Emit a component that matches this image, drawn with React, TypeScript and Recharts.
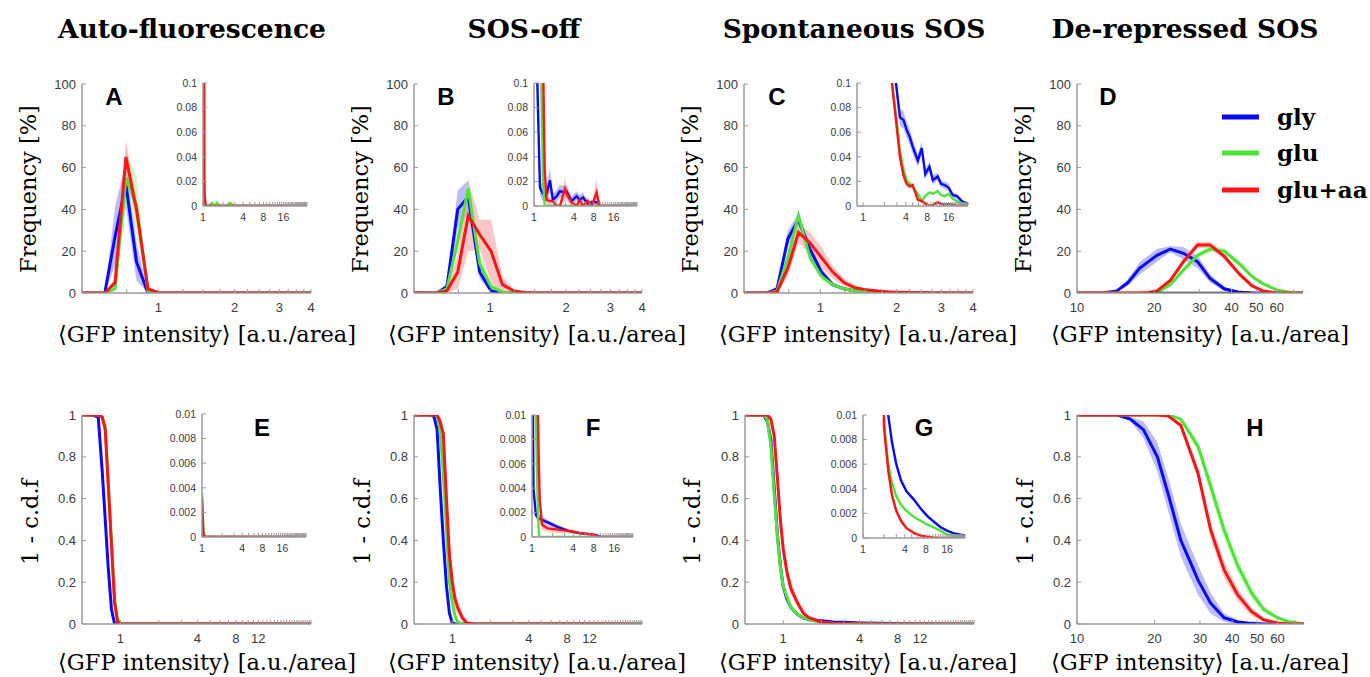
import React from "react";
import { ComposedChart, Line, Area, XAxis, YAxis } from "recharts";

const BLUE = "#0a0af5";
const GREEN = "#4fe33a";
const RED = "#fa1616";
const BLUE_BAND = "#8e8ef2";
const GREEN_BAND = "#aef3a0";
const RED_BAND = "#f5a0a0";
const AXIS = "#9a9a9a";
const TICK_TEXT = "#3a3a3a";
const SERIF = "'DejaVu Serif', serif";
const SANS = "'Liberation Sans', Arial, sans-serif";

const titles = ["Auto-fluorescence", "SOS-off", "Spontaneous SOS", "De-repressed SOS"];
const conditions = ["gly", "glu", "glu+aa"];

// ---- top row histograms (A-C), frequency in % ----
const xABC = [0.5, 0.555, 0.615, 0.675, 0.745, 0.82, 0.91, 1.01, 1.12, 1.24, 1.37, 1.52, 1.68, 1.86, 2.06, 2.28, 2.52, 2.8, 3.1, 3.43, 3.8, 4];

const glyA = [0, 0, 0, 27, 52, 15, 0, 0, 0, 0, 0, 0, 0, 0, 0, 0, 0, 0, 0, 0, 0, 0];
const glyA_sd = [0, 0, 0, 14, 11, 9, 1, 0, 0, 0, 0, 0, 0, 0, 0, 0, 0, 0, 0, 0, 0, 0];
const gluA = [0, 0, 0, 2, 55, 42, 1, 0, 0, 0, 0, 0, 0, 0, 0, 0, 0, 0, 0, 0, 0, 0];
const gluA_sd = [0, 0, 0, 1, 13, 14, 1, 0, 0, 0, 0, 0, 0, 0, 0, 0, 0, 0, 0, 0, 0, 0];
const aaA = [0, 0, 0, 5, 65, 40, 2, 0, 0, 0, 0, 0, 0, 0, 0, 0, 0, 0, 0, 0, 0, 0];
const aaA_sd = [0, 0, 0, 2, 8, 5, 1, 0, 0, 0, 0, 0, 0, 0, 0, 0, 0, 0, 0, 0, 0, 0];

const glyB = [0, 0, 0, 3, 40, 46, 10, 1, 0, 0, 0, 0, 0, 0, 0, 0, 0, 0, 0, 0, 0, 0];
const glyB_sd = [0, 0, 0, 2, 9, 8, 3, 1, 0, 0, 0, 0, 0, 0, 0, 0, 0, 0, 0, 0, 0, 0];
const gluB = [0, 0, 0, 2, 25, 50, 14, 3, 0.5, 0, 0, 0, 0, 0, 0, 0, 0, 0, 0, 0, 0, 0];
const gluB_sd = [0, 0, 0, 1, 5, 5, 5, 2, 0.5, 0, 0, 0, 0, 0, 0, 0, 0, 0, 0, 0, 0, 0];
const aaB = [0, 0, 0, 1, 10, 37, 28, 20, 4, 1, 0.3, 0, 0, 0, 0, 0, 0, 0, 0, 0, 0, 0];
const aaB_sd = [0, 0, 0, 1, 8, 17, 7, 15, 4, 1, 0.3, 0, 0, 0, 0, 0, 0, 0, 0, 0, 0, 0];

const glyC = [0, 0, 0, 2, 26, 35, 21, 10, 4, 2, 1, 0.6, 0.4, 0.3, 0.2, 0.1, 0.1, 0, 0, 0, 0, 0];
const glyC_sd = [0, 0, 0, 1, 4, 3, 3, 2, 1, 0.5, 0.3, 0.2, 0.1, 0, 0, 0, 0, 0, 0, 0, 0, 0];
const gluC = [0, 0, 0, 1, 17, 37, 17, 8, 4, 2, 1, 0.5, 0.3, 0.2, 0.1, 0, 0, 0, 0, 0, 0, 0];
const gluC_sd = [0, 0, 0, 1, 3, 3, 2, 1.5, 1, 0.5, 0.3, 0.2, 0, 0, 0, 0, 0, 0, 0, 0, 0, 0];
const aaC = [0, 0, 0, 0.5, 12, 29, 24, 17, 10, 5, 2.5, 1.5, 1, 0.5, 0.3, 0.2, 0.1, 0, 0, 0, 0, 0];
const aaC_sd = [0, 0, 0, 0.5, 4, 5, 5, 5, 3, 2, 1, 0.5, 0.3, 0.2, 0, 0, 0, 0, 0, 0, 0, 0];

// ---- D histogram ----
const xD = [10, 11.5, 12.6, 14.3, 15.8, 17.6, 19, 20.5, 23.1, 26, 29.5, 33, 37.5, 43, 48, 53, 60, 68, 76];
const glyD = [0, 0, 0, 1, 5, 12, 15, 18, 21, 19, 15, 7, 2, 0.3, 0, 0, 0, 0, 0];
const glyD_sd = [0, 0, 0, 0.5, 1.5, 3, 3, 3, 1.5, 3, 3, 2, 1, 0.3, 0, 0, 0, 0, 0];
const gluD = [0, 0, 0, 0, 0, 0, 0, 0.3, 4, 11, 18, 21, 20, 14, 8, 4.5, 1.5, 0.3, 0];
const gluD_sd = [0, 0, 0, 0, 0, 0, 0, 0.3, 1, 1.5, 1.5, 1.5, 1.5, 1.5, 1, 0.7, 0.4, 0.2, 0];
const aaD = [0, 0, 0, 0, 0, 0, 0.3, 1, 6, 15, 23, 23, 17.5, 9, 3.5, 1, 0, 0, 0];
const aaD_sd = [0, 0, 0, 0, 0, 0, 0.2, 0.5, 1, 1.5, 1.5, 1.5, 1.5, 1, 0.7, 0.3, 0, 0, 0];
const ctrlD = [null, null, null, null, null, null, 0, 0, 0, 0, 0, 0, 0, 0, 0, null, null, null, null];

// ---- bottom row 1 - c.d.f ----
const xE = [0.5, 0.6, 0.67, 0.72, 0.76, 0.8, 0.85, 0.9, 0.95, 1.0, 1.1, 1.3, 1.6, 2, 3, 4, 6, 8, 12, 16, 24, 31];
const glyE = [1, 1, 0.99, 0.73, 0.5, 0.28, 0.07, 0, 0, 0, 0, 0, 0, 0, 0, 0, 0, 0, 0, 0, 0, 0];
const glyE_sd = [0, 0, 0.01, 0.03, 0.03, 0.03, 0.02, 0, 0, 0, 0, 0, 0, 0, 0, 0, 0, 0, 0, 0, 0, 0];
const gluE = [1, 1, 1, 0.99, 0.95, 0.7, 0.4, 0.12, 0.02, 0, 0, 0, 0, 0, 0, 0, 0, 0, 0, 0, 0, 0];
const gluE_sd = [0, 0, 0, 0.01, 0.02, 0.03, 0.03, 0.02, 0.01, 0, 0, 0, 0, 0, 0, 0, 0, 0, 0, 0, 0, 0];
const aaE = [1, 1, 1, 0.99, 0.93, 0.68, 0.38, 0.1, 0.01, 0, 0, 0, 0, 0, 0, 0, 0, 0, 0, 0, 0, 0];
const aaE_sd = [0, 0, 0, 0.01, 0.02, 0.02, 0.02, 0.02, 0.01, 0, 0, 0, 0, 0, 0, 0, 0, 0, 0, 0, 0, 0];

const xF = [0.5, 0.6, 0.68, 0.72, 0.76, 0.8, 0.85, 0.9, 0.95, 1.0, 1.05, 1.1, 1.2, 1.3, 1.5, 2, 3, 4, 6, 8, 12, 16, 24, 31];
const glyF = [1, 1, 1, 0.99, 0.93, 0.67, 0.4, 0.18, 0.05, 0.005, 0, 0, 0, 0, 0, 0, 0, 0, 0, 0, 0, 0, 0, 0];
const glyF_sd = [0, 0, 0, 0, 0.01, 0.02, 0.02, 0.02, 0.01, 0.003, 0, 0, 0, 0, 0, 0, 0, 0, 0, 0, 0, 0, 0, 0];
const gluF = [1, 1, 1, 1, 1, 0.93, 0.72, 0.45, 0.2, 0.1, 0.04, 0.01, 0, 0, 0, 0, 0, 0, 0, 0, 0, 0, 0, 0];
const gluF_sd = [0, 0, 0, 0, 0, 0.02, 0.03, 0.03, 0.03, 0.02, 0.01, 0.005, 0, 0, 0, 0, 0, 0, 0, 0, 0, 0, 0, 0];
const aaF = [1, 1, 1, 1, 1, 0.97, 0.91, 0.6, 0.33, 0.2, 0.12, 0.08, 0.03, 0.005, 0, 0, 0, 0, 0, 0, 0, 0, 0, 0];
const aaF_sd = [0, 0, 0, 0, 0, 0.02, 0.04, 0.07, 0.07, 0.06, 0.05, 0.03, 0.02, 0.005, 0, 0, 0, 0, 0, 0, 0, 0, 0, 0];

const xG = [0.5, 0.6, 0.7, 0.75, 0.8, 0.85, 0.9, 0.95, 1.0, 1.07, 1.15, 1.3, 1.45, 1.6, 2, 2.5, 3, 4, 6, 8, 12, 16, 24, 32];
const glyG = [1, 1, 1, 0.97, 0.88, 0.65, 0.43, 0.28, 0.18, 0.12, 0.08, 0.045, 0.028, 0.02, 0.015, 0.01, 0.008, 0.005, 0.003, 0.002, 0.001, 0.0005, 0.0002, 0];
const glyG_sd = [0, 0, 0, 0.01, 0.02, 0.02, 0.02, 0.02, 0.01, 0.01, 0.005, 0.003, 0.002, 0.001, 0, 0, 0, 0, 0, 0, 0, 0, 0, 0];
const gluG = [1, 1, 1, 0.98, 0.85, 0.62, 0.42, 0.27, 0.18, 0.13, 0.08, 0.045, 0.03, 0.02, 0.008, 0.004, 0.002, 0.001, 0.0006, 0.0004, 0.0002, 0.0001, 0, 0];
const gluG_sd = [0, 0, 0, 0.01, 0.02, 0.02, 0.02, 0.02, 0.01, 0.01, 0.005, 0.003, 0.002, 0.001, 0, 0, 0, 0, 0, 0, 0, 0, 0, 0];
const aaG = [1, 1, 1, 1, 0.98, 0.9, 0.7, 0.5, 0.36, 0.25, 0.17, 0.1, 0.05, 0.03, 0.01, 0.004, 0.002, 0.001, 0.0004, 0.0001, 0, 0, 0, 0];
const aaG_sd = [0, 0, 0, 0, 0.01, 0.03, 0.05, 0.05, 0.05, 0.04, 0.03, 0.02, 0.01, 0.005, 0, 0, 0, 0, 0, 0, 0, 0, 0, 0];

const xH = [10, 12, 14.3, 16.1, 18.1, 20.5, 22.6, 25.3, 29.5, 33, 37.2, 42, 47.5, 53, 60, 66, 76];
const glyH = [1, 1, 1, 0.98, 0.93, 0.8, 0.62, 0.4, 0.21, 0.1, 0.03, 0.01, 0.003, 0, 0, 0, 0];
const glyH_sd = [0, 0, 0, 0.01, 0.04, 0.07, 0.08, 0.08, 0.07, 0.05, 0.02, 0.01, 0.003, 0, 0, 0, 0];
const gluH = [1, 1, 1, 1, 1, 1, 1, 0.98, 0.85, 0.66, 0.45, 0.28, 0.15, 0.07, 0.03, 0.012, 0];
const gluH_sd = [0, 0, 0, 0, 0, 0, 0, 0.01, 0.03, 0.04, 0.04, 0.03, 0.03, 0.02, 0.01, 0.005, 0];
const aaH = [1, 1, 1, 1, 1, 1, 0.995, 0.95, 0.72, 0.45, 0.26, 0.14, 0.06, 0.02, 0.005, 0, 0];
const aaH_sd = [0, 0, 0, 0, 0, 0, 0, 0.01, 0.03, 0.04, 0.04, 0.03, 0.02, 0.01, 0, 0, 0];

// ---- insets (tails) ----
const xIA = [1, 1.05, 1.1, 1.2, 1.37, 1.5, 1.62, 1.8, 2.2, 2.55, 2.9, 4, 6, 8, 12, 16, 24, 36];
const glyIA = [0.052, 0.003, 0, 0, 0, 0, 0, 0, 0, 0, 0, 0, 0, 0, 0, 0, 0, 0];
const glyIA_sd = [0.004, 0.001, 0, 0, 0, 0, 0, 0, 0, 0, 0, 0, 0, 0, 0, 0, 0, 0];
const gluIA = [0.01, 0.002, 0, 0, 0.0025, 0, 0.0025, 0, 0, 0.0025, 0, 0, 0, 0, 0, 0, 0, 0];
const gluIA_sd = [0.002, 0.001, 0, 0, 0.001, 0, 0.001, 0, 0, 0.001, 0, 0, 0, 0, 0, 0, 0, 0];
const aaIA = [0.5, 0.01, 0, 0, 0, 0, 0, 0, 0, 0, 0, 0, 0, 0, 0, 0, 0, 0];
const aaIA_sd = [0.01, 0.002, 0, 0, 0, 0, 0, 0, 0, 0, 0, 0, 0, 0, 0, 0, 0, 0];

const xIB = [1, 1.1, 1.23, 1.3, 1.37, 1.45, 1.55, 1.74, 1.93, 2.2, 2.46, 2.93, 3.1, 3.7, 4.4, 4.9, 5.5, 6.5, 7.5, 8.8, 9.85, 12, 16, 24, 36];
const glyIB = [1, 0.12, 0.015, 0.012, 0.01, 0.008, 0.01, 0.021, 0.005, 0.008, 0.012, 0.011, 0.012, 0.004, 0.008, 0.005, 0.007, 0.002, 0.003, 0.003, 0, 0, 0, 0, 0];
const glyIB_sd = [0.02, 0.01, 0.006, 0.006, 0.006, 0.006, 0.006, 0.01, 0.005, 0.005, 0.005, 0.005, 0.005, 0.004, 0.004, 0.004, 0.004, 0.002, 0.002, 0.002, 0, 0, 0, 0, 0];
const gluIB = [2, 1, 0.3, 0.09, 0.02, 0, 0, 0, 0, 0, 0, 0, 0, 0, 0, 0, 0, 0, 0, 0, 0, 0, 0, 0, 0];
const gluIB_sd = [0.05, 0.03, 0.02, 0.01, 0.005, 0, 0, 0, 0, 0, 0, 0, 0, 0, 0, 0, 0, 0, 0, 0, 0, 0, 0, 0, 0];
const aaIB = [5, 3, 1, 0.5, 0.12, 0.03, 0.005, 0.004, 0.004, 0, 0, 0.014, 0.01, 0.003, 0, 0.005, 0, 0.004, 0, 0.011, 0, 0, 0, 0, 0];
const aaIB_sd = [0.1, 0.1, 0.05, 0.03, 0.02, 0.01, 0.004, 0.003, 0.003, 0, 0, 0.01, 0.006, 0.003, 0, 0.004, 0, 0.004, 0, 0.011, 0, 0, 0, 0, 0];

const xIC = [0.82, 1, 1.5, 2, 2.55, 2.9, 3.3, 3.7, 4.1, 4.55, 5, 5.9, 6.7, 7.5, 8.6, 9.6, 11.2, 12.5, 14, 16, 18.2, 21, 25, 30];
const glyIC = [1, 1, 0.5, 0.3, 0.15, 0.1, 0.072, 0.07, 0.062, 0.056, 0.048, 0.037, 0.047, 0.026, 0.032, 0.021, 0.024, 0.018, 0.017, 0.015, 0.009, 0.008, 0.0035, 0.002];
const glyIC_sd = [0, 0, 0, 0, 0.008, 0.008, 0.007, 0.007, 0.007, 0.006, 0.006, 0.005, 0.005, 0.004, 0.004, 0.004, 0.003, 0.003, 0.003, 0.003, 0.002, 0.002, 0.001, 0.001];
const gluIC = [1, 1, 0.6, 0.3, 0.1, 0.075, 0.045, 0.03, 0.021, 0.018, 0.015, 0.01, 0.004, 0.008, 0.011, 0.01, 0.012, 0.009, 0.008, 0.01, 0.006, 0.004, 0.002, 0.001];
const gluIC_sd = [0, 0, 0, 0, 0.006, 0.005, 0.004, 0.003, 0.002, 0.002, 0.002, 0.002, 0.001, 0.001, 0.001, 0.001, 0.001, 0.001, 0.001, 0.001, 0.001, 0.001, 0.001, 0];
const aaIC = [1, 1, 0.6, 0.3, 0.1, 0.07, 0.04, 0.025, 0.018, 0.016, 0.017, 0.005, 0.004, 0.002, 0, 0.001, 0.003, 0.002, 0.001, 0.0015, 0.001, 0, 0.0005, 0];
const aaIC_sd = [0, 0, 0, 0, 0.01, 0.008, 0.006, 0.004, 0.003, 0.002, 0.002, 0.001, 0.001, 0.001, 0, 0, 0, 0, 0, 0, 0, 0, 0, 0];

const xIE = [1, 1.05, 1.1, 1.2, 1.5, 2, 3, 4, 6, 8, 12, 16, 24, 36];
const glyIE = [0.0005, 0.0001, 0, 0, 0, 0, 0, 0, 0, 0, 0, 0, 0, 0];
const glyIE_sd = [0.0001, 0, 0, 0, 0, 0, 0, 0, 0, 0, 0, 0, 0, 0];
const gluIE = [0.0036, 0.0003, 0.0001, 0, 0, 0, 0, 0, 0, 0, 0, 0, 0, 0];
const gluIE_sd = [0.0002, 0.0001, 0, 0, 0, 0, 0, 0, 0, 0, 0, 0, 0, 0];
const aaIE = [0.0031, 0.0003, 0, 0, 0, 0, 0, 0, 0, 0, 0, 0, 0, 0];
const aaIE_sd = [0.0001, 0, 0, 0, 0, 0, 0, 0, 0, 0, 0, 0, 0, 0];

const xIF = [1, 1.05, 1.14, 1.22, 1.27, 1.3, 1.4, 1.7, 2.4, 3.4, 5.2, 8.1, 9.3, 10, 12, 16, 22, 30];
const glyIF = [0.02, 0.004, 0.0018, 0.0016, 0.0015, 0.0015, 0.0014, 0.0012, 0.0008, 0.0005, 0.0003, 0.0002, 0.0001, 0, 0, 0, 0, 0];
const glyIF_sd = [0.001, 0.0005, 0.0003, 0.0003, 0.0003, 0.0003, 0.0003, 0.0002, 0.0002, 0.0001, 0.0001, 0.0001, 0, 0, 0, 0, 0, 0];
const gluIF = [0.05, 0.03, 0.01, 0.002, 0, 0, 0, 0, 0, 0, 0, 0, 0, 0, 0, 0, 0, 0];
const gluIF_sd = [0.002, 0.001, 0.001, 0.0005, 0, 0, 0, 0, 0, 0, 0, 0, 0, 0, 0, 0, 0, 0];
const aaIF = [0.1, 0.08, 0.04, 0.01, 0.005, 0.003, 0.001, 0.0007, 0.0006, 0.0005, 0.0003, 0.0002, 0, 0, 0, 0, 0, 0];
const aaIF_sd = [0, 0, 0, 0.001, 0.0008, 0.0006, 0.0004, 0.0003, 0.0003, 0.0002, 0.0001, 0.0001, 0, 0, 0, 0, 0, 0];

const xIG = [1, 1.5, 2, 2.3, 2.6, 3, 3.5, 4.2, 5.4, 6.7, 8.3, 10, 12.8, 16, 19.6, 24, 29];
const glyIG = [1, 0.1, 0.02, 0.01, 0.0078, 0.006, 0.0047, 0.0038, 0.0031, 0.0024, 0.0018, 0.0014, 0.0009, 0.0006, 0.0004, 0.0003, 0.0002];
const glyIG_sd = [0, 0, 0.0002, 0.0002, 0.0002, 0.0002, 0.0002, 0.0001, 0.0001, 0.0001, 0.0001, 0.0001, 0.0001, 0, 0, 0, 0];
const gluIG = [1, 0.1, 0.0095, 0.006, 0.0045, 0.0034, 0.0027, 0.0022, 0.0017, 0.0014, 0.0011, 0.0009, 0.0006, 0.0003, 0.0002, 0.0001, 0.0001];
const gluIG_sd = [0, 0, 0.0003, 0.0002, 0.0002, 0.0002, 0.0001, 0.0001, 0.0001, 0.0001, 0.0001, 0.0001, 0, 0, 0, 0, 0];
const aaIG = [1, 0.1, 0.009, 0.0055, 0.0035, 0.0022, 0.0014, 0.0008, 0.0004, 0.0002, 0.0001, 0.00005, 0, 0, 0, 0, 0];
const aaIG_sd = [0, 0, 0.0008, 0.0006, 0.0004, 0.0003, 0.0002, 0.0001, 0, 0, 0, 0, 0, 0, 0, 0, 0];

// ---- ticks ----
const ticksTopX = [0.5, 0.75, 1, 1.25, 1.5, 1.75, 2, 2.25, 2.5, 2.75, 3, 3.25, 3.5, 3.75, 4];
const labelsTopX = [1, 2, 3, 4];
const intTicks = [1, 2, 3, 4, 5, 6, 7, 8, 9, 10, 11, 12, 13, 14, 15, 16, 17, 18, 19, 20, 21, 22, 23, 24, 25, 26, 27, 28, 29, 30, 31, 32, 33, 34, 35, 36];
const labelsBotX = [1, 4, 8, 12];
const labelsInsetX = [1, 4, 8, 16];
const ticksDH = [10, 20, 30, 40, 50, 60, 70];
const labelsDH = [10, 20, 30, 40, 50, 60];
const yFreq = [0, 20, 40, 60, 80, 100];
const yCdf = [0, 0.2, 0.4, 0.6, 0.8, 1];
const yFreqInset = [0, 0.02, 0.04, 0.06, 0.08, 0.1];
const yCdfInset = [0, 0.002, 0.004, 0.006, 0.008, 0.01];

type S = { key: string; mean: (number | null)[]; sd?: number[]; color: string; band?: string; width?: number };

const three = (g: number[], gs: number[], u: number[], us: number[], a: number[], as: number[]): S[] => [
  { key: "gly", mean: g, sd: gs, color: BLUE, band: BLUE_BAND },
  { key: "glu", mean: u, sd: us, color: GREEN, band: GREEN_BAND },
  { key: "aa", mean: a, sd: as, color: RED, band: RED_BAND },
];

type PanelProps = {
  left: number;
  top: number;
  w: number;
  h: number;
  xs: number[];
  series: S[];
  xDomain: [number, number];
  yDomain: [number, number];
  xTicks: number[];
  xLabels: number[];
  yTicks: number[];
  inset?: boolean;
};

function Panel(p: PanelProps) {
  const YW = p.inset ? 36 : 44;
  const XH = p.inset ? 18 : 24;
  const M = 6;
  const fs = p.inset ? 10.5 : 13;
  const lw = p.inset ? 2.4 : 3;
  const rows = p.xs.map((x, i) => {
    const r: Record<string, any> = { x };
    p.series.forEach((s) => {
      const m = s.mean[i];
      r[s.key] = m;
      if (s.sd && m != null) r[s.key + "_b"] = [Math.max(0, m - s.sd[i]), m + s.sd[i]];
    });
    return r;
  });
  const xTicks = p.xTicks.filter((t) => t >= p.xDomain[0] && t <= p.xDomain[1]);

  const xTick = (t: any) => {
    const v = t.payload.value;
    return (
      <g>
        <line x1={t.x} x2={t.x} y1={t.y} y2={t.y - 4} stroke={AXIS} strokeWidth={1} />
        {p.xLabels.includes(v) && (
          <text x={t.x} y={t.y + (p.inset ? 14.5 : 18.5)} textAnchor="middle" fontSize={fs} fill={TICK_TEXT} fontFamily={SANS}>
            {v}
          </text>
        )}
      </g>
    );
  };
  const yTick = (t: any) => (
    <g>
      <line x1={t.x} x2={t.x + 4} y1={t.y} y2={t.y} stroke={AXIS} strokeWidth={1} />
      <text x={t.x - 6} y={t.y + fs * 0.36} textAnchor="end" fontSize={fs} fill={TICK_TEXT} fontFamily={SANS}>
        {t.payload.value}
      </text>
    </g>
  );

  return (
    <div style={{ position: "absolute", left: p.left - YW, top: p.top - M }}>
      <ComposedChart width={p.w + YW + M} height={p.h + M + XH} data={rows} margin={{ top: M, right: M, bottom: 0, left: 0 }}>
        <XAxis
          dataKey="x"
          type="number"
          scale="log"
          domain={p.xDomain}
          ticks={xTicks}
          interval={0}
          allowDataOverflow
          height={XH}
          tickSize={0}
          tickMargin={0}
          tickLine={false}
          axisLine={{ stroke: AXIS, strokeWidth: 1.5 }}
          tick={xTick}
        />
        <YAxis
          type="number"
          domain={p.yDomain}
          ticks={p.yTicks}
          interval={0}
          allowDataOverflow
          width={YW}
          tickSize={0}
          tickMargin={0}
          tickLine={false}
          axisLine={{ stroke: AXIS, strokeWidth: 1.5 }}
          tick={yTick}
        />
        {p.series
          .filter((s) => s.band)
          .map((s) => (
            <Area
              key={s.key + "_b"}
              type="linear"
              dataKey={s.key + "_b"}
              stroke="none"
              fill={s.band}
              fillOpacity={0.6}
              isAnimationActive={false}
              activeDot={false}
            />
          ))}
        {p.series.map((s) => (
          <Line
            key={s.key}
            type="linear"
            dataKey={s.key}
            stroke={s.color}
            strokeWidth={s.width ?? lw}
            dot={false}
            activeDot={false}
            isAnimationActive={false}
          />
        ))}
      </ComposedChart>
    </div>
  );
}

const colX = [82, 414, 744, 1077];
const labelCenters = [207, 537, 868, 1200];

export default function App() {
  const top = { top: 84, h: 209 };
  const bot = { top: 415, h: 209 };
  return (
    <div style={{ position: "absolute", left: 0, top: 0, width: 1370, height: 677, background: "#fff", overflow: "hidden" }}>
      {/* top row */}
      <Panel left={82} top={top.top} w={229} h={top.h} xs={xABC} series={three(glyA, glyA_sd, gluA, gluA_sd, aaA, aaA_sd)}
        xDomain={[0.5, 4]} yDomain={[0, 100]} xTicks={ticksTopX} xLabels={labelsTopX} yTicks={yFreq} />
      <Panel left={414} top={top.top} w={228} h={top.h} xs={xABC} series={three(glyB, glyB_sd, gluB, gluB_sd, aaB, aaB_sd)}
        xDomain={[0.5, 4]} yDomain={[0, 100]} xTicks={ticksTopX} xLabels={labelsTopX} yTicks={yFreq} />
      <Panel left={744} top={top.top} w={229} h={top.h} xs={xABC} series={three(glyC, glyC_sd, gluC, gluC_sd, aaC, aaC_sd)}
        xDomain={[0.5, 4]} yDomain={[0, 100]} xTicks={ticksTopX} xLabels={labelsTopX} yTicks={yFreq} />
      <Panel left={1077} top={top.top} w={226} h={top.h} xs={xD}
        series={[...three(glyD, glyD_sd, gluD, gluD_sd, aaD, aaD_sd), { key: "ctrl", mean: ctrlD, color: "#111111", width: 2.5 }]}
        xDomain={[10, 76]} yDomain={[0, 100]} xTicks={ticksDH} xLabels={labelsDH} yTicks={yFreq} />

      {/* bottom row */}
      <Panel left={82} top={bot.top} w={229} h={bot.h} xs={xE} series={three(glyE, glyE_sd, gluE, gluE_sd, aaE, aaE_sd)}
        xDomain={[0.5, 31]} yDomain={[0, 1]} xTicks={intTicks} xLabels={labelsBotX} yTicks={yCdf} />
      <Panel left={414} top={bot.top} w={228} h={bot.h} xs={xF} series={three(glyF, glyF_sd, gluF, gluF_sd, aaF, aaF_sd)}
        xDomain={[0.5, 31]} yDomain={[0, 1]} xTicks={intTicks} xLabels={labelsBotX} yTicks={yCdf} />
      <Panel left={745} top={bot.top} w={229} h={bot.h} xs={xG} series={three(glyG, glyG_sd, gluG, gluG_sd, aaG, aaG_sd)}
        xDomain={[0.5, 32]} yDomain={[0, 1]} xTicks={intTicks} xLabels={labelsBotX} yTicks={yCdf} />
      <Panel left={1077} top={bot.top} w={227} h={bot.h} xs={xH} series={three(glyH, glyH_sd, gluH, gluH_sd, aaH, aaH_sd)}
        xDomain={[10, 76]} yDomain={[0, 1]} xTicks={ticksDH} xLabels={labelsDH} yTicks={yCdf} />

      {/* insets */}
      <Panel inset left={203} top={83} w={104} h={123} xs={xIA} series={three(glyIA, glyIA_sd, gluIA, gluIA_sd, aaIA, aaIA_sd)}
        xDomain={[1, 36]} yDomain={[0, 0.1]} xTicks={intTicks} xLabels={labelsInsetX} yTicks={yFreqInset} />
      <Panel inset left={534} top={83} w={103} h={123} xs={xIB} series={three(glyIB, glyIB_sd, gluIB, gluIB_sd, aaIB, aaIB_sd)}
        xDomain={[1, 36]} yDomain={[0, 0.1]} xTicks={intTicks} xLabels={labelsInsetX} yTicks={yFreqInset} />
      <Panel inset left={857} top={83} w={111} h={123} xs={xIC} series={three(glyIC, glyIC_sd, gluIC, gluIC_sd, aaIC, aaIC_sd)}
        xDomain={[0.82, 30]} yDomain={[0, 0.1]} xTicks={intTicks} xLabels={labelsInsetX} yTicks={yFreqInset} />
      <Panel inset left={202} top={414} w={104} h={123} xs={xIE} series={three(glyIE, glyIE_sd, gluIE, gluIE_sd, aaIE, aaIE_sd)}
        xDomain={[1, 36]} yDomain={[0, 0.01]} xTicks={intTicks} xLabels={labelsInsetX} yTicks={yCdfInset} />
      <Panel inset left={532} top={415} w={101} h={122} xs={xIF} series={three(glyIF, glyIF_sd, gluIF, gluIF_sd, aaIF, aaIF_sd)}
        xDomain={[1, 30]} yDomain={[0, 0.01]} xTicks={intTicks} xLabels={labelsInsetX} yTicks={yCdfInset} />
      <Panel inset left={863} top={415} w={102} h={123} xs={xIG} series={three(glyIG, glyIG_sd, gluIG, gluIG_sd, aaIG, aaIG_sd)}
        xDomain={[1, 29]} yDomain={[0, 0.01]} xTicks={intTicks} xLabels={labelsInsetX} yTicks={yCdfInset} />

      {/* titles, panel letters, axis labels, legend */}
      <svg width={1370} height={677} style={{ position: "absolute", left: 0, top: 0, pointerEvents: "none" }}>
        {titles.map((t, i) => (
          <text key={t} x={[192, 524, 854, 1185][i]} y={38} textAnchor="middle" fontFamily={SERIF} fontWeight="bold" fontSize={26.5} fill="#000">
            {t}
          </text>
        ))}
        {["A", "B", "C", "D"].map((l, i) => (
          <text key={l} x={[114, 446, 777, 1108][i]} y={105} textAnchor="middle" fontFamily={SANS} fontWeight="bold" fontSize={24} fill="#000">
            {l}
          </text>
        ))}
        {["E", "F", "G", "H"].map((l, i) => (
          <text key={l} x={[262, 593, 924, 1255][i]} y={436} textAnchor="middle" fontFamily={SANS} fontWeight="bold" fontSize={24} fill="#000">
            {l}
          </text>
        ))}
        {colX.map((x, i) => (
          <g key={"yl" + i}>
            <text transform={`translate(${x - 46},189) rotate(-90)`} textAnchor="middle" fontFamily={SERIF} fontSize={22.5} fill="#000">
              Frequency [%]
            </text>
            <text transform={`translate(${x - 44},522) rotate(-90)`} textAnchor="middle" fontFamily={SERIF} fontSize={22.5} fill="#000">
              1 - c.d.f
            </text>
            <text x={labelCenters[i]} y={342} textAnchor="middle" fontFamily={SERIF} fontSize={22.5} fill="#000">
              ⟨GFP intensity⟩ [a.u./area]
            </text>
            <text x={labelCenters[i]} y={670} textAnchor="middle" fontFamily={SERIF} fontSize={22.5} fill="#000">
              ⟨GFP intensity⟩ [a.u./area]
            </text>
          </g>
        ))}
        {conditions.map((c, i) => (
          <g key={c}>
            <line x1={1222} x2={1259} y1={[117, 153, 190][i]} y2={[117, 153, 190][i]} stroke={[BLUE, GREEN, RED][i]} strokeWidth={5} />
            <text x={1277} y={[117, 153, 190][i] + 8} fontFamily={SERIF} fontWeight="bold" fontSize={23} fill="#000">
              {c}
            </text>
          </g>
        ))}
      </svg>
    </div>
  );
}
